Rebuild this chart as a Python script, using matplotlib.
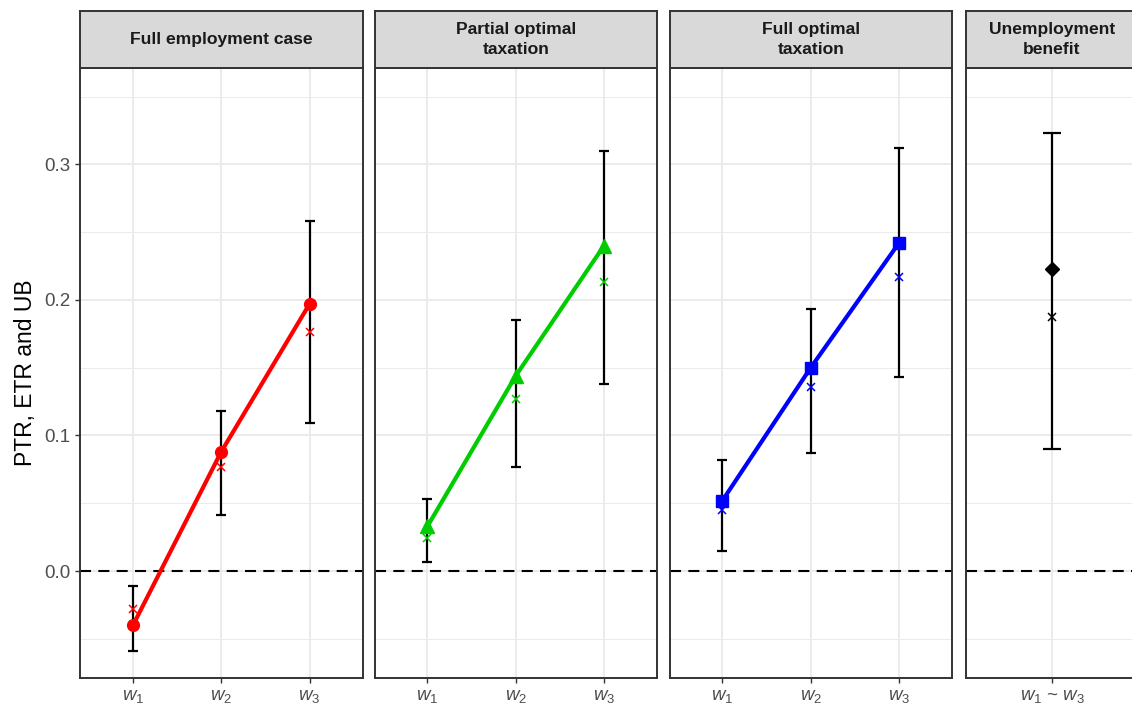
import matplotlib
matplotlib.use("Agg")
import matplotlib.pyplot as plt
import numpy as np

plt.rcParams['font.family'] = ['Liberation Sans', 'DejaVu Sans']
plt.rcParams['mathtext.fontset'] = 'custom'
plt.rcParams['mathtext.it'] = 'Liberation Sans:italic'
plt.rcParams['mathtext.rm'] = 'Liberation Sans'

# ---- data ----
panel_titles = ["Full employment case", "Partial optimal\ntaxation",
                "Full optimal\ntaxation", "Unemployment\nbenefit"]
tick_labels_3 = [r"$w_1$", r"$w_2$", r"$w_3$"]
tick_labels_1 = [r"$w_1$ ~ $w_3$"]

full_emp_ptr = [-0.040, 0.088, 0.197]
full_emp_etr = [-0.028, 0.077, 0.176]
full_emp_lo = [-0.059, 0.041, 0.109]
full_emp_hi = [-0.011, 0.118, 0.258]

partial_ptr = [0.033, 0.144, 0.240]
partial_etr = [0.024, 0.127, 0.213]
partial_lo = [0.007, 0.077, 0.138]
partial_hi = [0.053, 0.185, 0.310]

fullopt_ptr = [0.052, 0.150, 0.242]
fullopt_etr = [0.045, 0.136, 0.217]
fullopt_lo = [0.015, 0.087, 0.143]
fullopt_hi = [0.082, 0.193, 0.312]

ub_value = [0.223]
ub_etr = [0.187]
ub_lo = [0.090]
ub_hi = [0.323]

W, H = 1132, 704
fig = plt.figure(figsize=(W / 100, H / 100), dpi=100)

def px_axes(x0, x1, y0, y1):
    return fig.add_axes([x0 / W, (H - y1) / H, (x1 - x0) / W, (y1 - y0) / H])

panel_x = [(80, 362.5), (374.5, 657), (669.5, 952), (966, 1138)]
py0, py1 = 68.3, 678
sy0 = 11

ylim = (-0.0789, 0.3708)
border = '#333333'

series = [
    (full_emp_ptr, full_emp_etr, full_emp_lo, full_emp_hi, '#FF0000', 'o', 8.5),
    (partial_ptr, partial_etr, partial_lo, partial_hi, '#00CD00', '^', 9.5),
    (fullopt_ptr, fullopt_etr, fullopt_lo, fullopt_hi, '#0000FF', 's', 8.0),
    (ub_value, ub_etr, ub_lo, ub_hi, '#000000', 'D', 7.5),
]

for i, ((x0, x1), title, s) in enumerate(zip(panel_x, panel_titles, series)):
    ptr, etr, lo, hi, col, mk, ms = s
    n = len(ptr)
    ax = px_axes(x0, x1, py0, py1)
    xs = np.arange(1, n + 1)
    ax.set_xlim(0.4, n + 0.6)
    ax.set_ylim(*ylim)
    ax.set_yticks([0.0, 0.1, 0.2, 0.3])
    ax.set_yticks([-0.05, 0.05, 0.15, 0.25, 0.35], minor=True)
    ax.set_xticks(xs)
    ax.set_xticklabels(tick_labels_3 if n == 3 else tick_labels_1)
    ax.grid(True, which='major', color='#EBEBEB', lw=1.4, zorder=0)
    ax.grid(True, which='minor', axis='y', color='#EBEBEB', lw=0.7, zorder=0)
    ax.set_axisbelow(True)
    ax.tick_params(axis='both', which='major', length=3.5, width=1.0, color=border,
                   labelcolor='#4D4D4D', labelsize=13.5, pad=3.5)
    ax.tick_params(axis='x', labelsize=13.5, pad=4)
    ax.tick_params(which='minor', length=0)
    if i == 0:
        ax.set_yticklabels(['0.0', '0.1', '0.2', '0.3'])
        ax.set_ylabel('PTR, ETR and UB', fontsize=16.5, color='black', labelpad=5)
    else:
        ax.set_yticklabels([])
        ax.tick_params(axis='y', length=0)
    for sp in ax.spines.values():
        sp.set_color(border)
        sp.set_linewidth(1.4)
    ax.axhline(0, color='black', lw=1.5, ls=(0, (5.3, 3.5)), zorder=2)
    lo_a = np.array(lo); hi_a = np.array(hi); mid = (lo_a + hi_a) / 2
    cap = 3.3 if n == 3 else 6.2
    ax.errorbar(xs, mid, yerr=[mid - lo_a, hi_a - mid], fmt='none', ecolor='black',
                elinewidth=1.6, capsize=cap, capthick=1.6, zorder=3)
    if n > 1:
        ax.plot(xs, ptr, color=col, lw=3.0, zorder=4, solid_capstyle='butt')
    ax.plot(xs, ptr, ls='none', marker=mk, color=col, ms=ms, zorder=5)
    ax.plot(xs, etr, ls='none', marker='x', color=col, ms=6, mew=1.1, zorder=6)

    sax = px_axes(x0, x1, sy0, py0)
    sax.set_facecolor('#D9D9D9')
    sax.set_xticks([]); sax.set_yticks([])
    for sp in sax.spines.values():
        sp.set_color(border)
        sp.set_linewidth(1.4)
    cx = 0.5 if n == 3 else (1052 - x0) / (x1 - x0)
    sax.text(cx, 0.5, title, ha='center', va='center', fontsize=12.6, fontweight='bold',
             color='#1A1A1A', transform=sax.transAxes, linespacing=1.45)

fig.savefig('out.png', dpi=100)
